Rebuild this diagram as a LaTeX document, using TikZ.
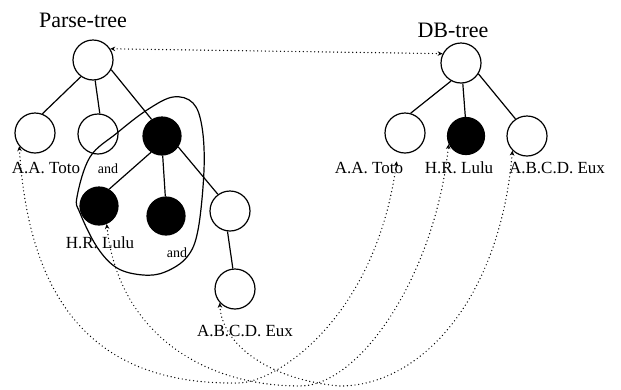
\documentclass[tikz,border=0pt]{standalone}
\usepackage{fontspec}
\setmainfont{Liberation Serif}
\usetikzlibrary{arrows.meta}

\begin{document}
\begin{tikzpicture}[x=1pt,y=-1pt,
  treenode/.style={circle,draw,line width=1.2pt,minimum size=40pt,inner sep=0pt},
  hitnode/.style={circle,draw,fill=black,line width=1.2pt,minimum size=38pt,inner sep=0pt},
  edge/.style={line width=1.2pt},
  link/.style={line width=1.4pt,line cap=round,dash pattern=on 0pt off 3.8pt,
    arrows={Stealth[length=5pt,width=4.5pt]-Stealth[length=5pt,width=4.5pt]}},
  title/.style={font=\fontsize{22}{24}\selectfont,inner sep=0pt},
  lbl/.style={font=\fontsize{17}{19}\selectfont,inner sep=0pt},
  conj/.style={font=\fontsize{14}{16}\selectfont,inner sep=0pt}]
\useasboundingbox (0,0) rectangle (621,389);

% ---- parse tree ----
\node[title] (ptitle) at (83,20) {Parse-tree};
\node[treenode] (pr) at (93,60) {};
\node[treenode] (ptoto) at (35,133) {};
\node[treenode] (pand) at (98,134) {};
\node[hitnode] (pname) at (162,136) {};
\node[hitnode] (plulu) at (99,206) {};
\node[hitnode] (pmid) at (166,216) {};
\node[treenode] (pw) at (230,211) {};
\node[treenode] (peux) at (235,289) {};

\draw[edge] (pr.234) -- (ptoto.69);
\draw[edge] (pr.-84) -- (pand.85);
\draw[edge] (pr.-28) -- (pname.122);
\draw[edge] (pname.236) -- (plulu.59);
\draw[edge] (pname.-88) -- (pmid.92);
\draw[edge] (pname.-34) -- (pw.126);
\draw[edge] (pw.-97) -- (peux.96);

\node[lbl] (lptoto) at (46,168) {A.A. Toto};
\node[conj] (land1) at (108,169) {and};
\node[lbl] (lplulu) at (100,243) {H.R. Lulu};
\node[conj] (land2) at (177,253) {and};
\node[lbl] (lpeux) at (245,331) {A.B.C.D. Eux};

% grouping loop around the name subtree
\draw[line width=1.2pt] plot[smooth cycle,tension=0.6] coordinates {
  (77,197) (90,157) (117,133) (147,110) (173,97) (193,103) (202,127)
  (204,170) (198,230) (187,257) (165,272) (143,275) (117,268) (97,247) (80,213)};

% ---- DB tree ----
\node[title] (dtitle) at (453,30) {DB-tree};
\node[treenode] (dr) at (461,63) {};
\node[treenode] (dtoto) at (405,133) {};
\node[hitnode,minimum size=37pt] (dlulu) at (466,136) {};
\node[treenode] (deux) at (527,136) {};

\draw[edge] (dr.241) -- (dtoto.74);
\draw[edge] (dr.-85) -- (dlulu.92);
\draw[edge] (dr.-32) -- (deux.124);

\node[lbl] (ldtoto) at (369,168) {A.A. Toto};
\node[lbl] (ldlulu) at (459,168) {H.R. Lulu};
\node[lbl] (ldeux) at (557,168) {A.B.C.D. Eux};

% ---- correspondences ----
\coordinate (lowToto) at (238,383);
\coordinate (lowLulu) at (300,386);
\coordinate (lowEux) at (340,386);

\draw[link] (pr.33) -- (dr.153);
\draw[link,shorten >=9pt] (ptoto.220) .. controls (30,320) and (110,385) .. (lowToto)
  .. controls (275,383) and (375,320) .. (dtoto.250);
\draw[link] (plulu.-67) .. controls (118,330) and (200,386) .. (lowLulu)
  .. controls (360,386) and (435,275) .. (dlulu.205);
\draw[link] (peux.222) .. controls (222,345) and (270,380) .. (lowEux)
  .. controls (420,386) and (500,300) .. (deux.225);
\end{tikzpicture}
\end{document}
